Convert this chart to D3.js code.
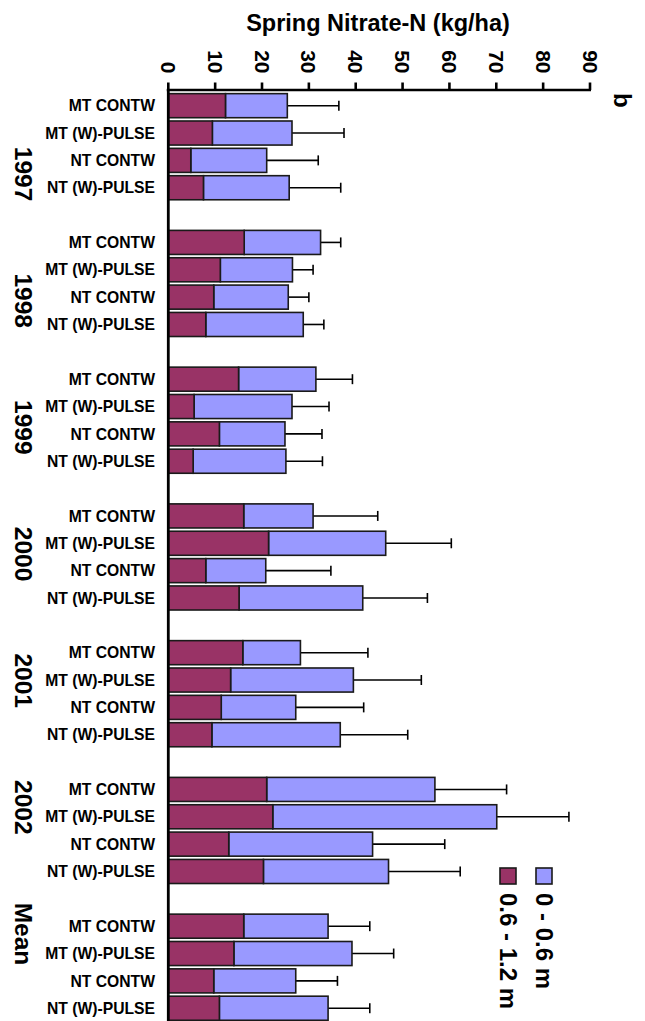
<!DOCTYPE html>
<html>
<head>
<meta charset="utf-8">
<script src="https://cdn.jsdelivr.net/npm/d3@7"></script>
<style>
  body { margin: 0; background: #fff; }
  svg text { font-family: "Liberation Sans", Arial, sans-serif; font-weight: bold; fill: #000; }
</style>
</head>
<body>
<svg id="chart" width="645" height="1021"></svg>
<script>
// groups, top to bottom
var years = ["1997", "1998", "1999", "2000", "2001", "2002", "Mean"];
var treatments = ["MT CONTW", "MT (W)-PULSE", "NT CONTW", "NT (W)-PULSE"];

// 0.6 - 1.2 m layer (kg/ha), one row per year, in treatment order
var deep = [
    [12.2, 9.4, 4.8, 7.5],
    [16.2, 11.1, 9.7, 8.0],
    [15.0, 5.5, 10.9, 5.3],
    [16.1, 21.4, 8.0, 15.1],
    [15.9, 13.3, 11.3, 9.3],
    [21.0, 22.3, 12.9, 20.3],
    [16.1, 14.0, 9.7, 10.9]
];
// 0 - 0.6 m layer (kg/ha), stacked on top of the deep layer
var shallow = [
    [13.2, 17.0, 16.2, 18.3],
    [16.3, 15.4, 15.9, 20.8],
    [16.5, 20.9, 14.0, 19.8],
    [14.8, 25.0, 12.8, 26.4],
    [12.3, 26.2, 15.9, 27.4],
    [35.9, 47.8, 30.7, 26.7],
    [18.0, 25.2, 17.5, 23.2]
];
// error bar length above the stacked total
var errs = [
    [11.0, 11.1, 11.0, 11.0],
    [4.3, 4.4, 4.4, 4.4],
    [7.8, 7.9, 7.9, 7.8],
    [13.8, 14.0, 13.9, 13.8],
    [14.4, 14.5, 14.5, 14.4],
    [15.3, 15.4, 15.4, 15.3],
    [8.9, 8.9, 8.9, 8.9]
];
var xTicks = [0, 10, 20, 30, 40, 50, 60, 70, 80, 90];
var layers = ["0 - 0.6 m", "0.6 - 1.2 m"];
var colors = { "0 - 0.6 m": "#9999ff", "0.6 - 1.2 m": "#993366" };

var svg = d3.select("#chart");

// one slot per bar, plus an empty slot between year groups
var rows = [];
var slots = [];
years.forEach(function(yr, g) {
    treatments.forEach(function(t, i) {
        var key = g * 5 + i;
        slots.push(key);
        rows.push({ year: yr, treatment: t, slot: key, deep: deep[g][i], shallow: shallow[g][i], err: errs[g][i] });
    });
    if (g < years.length - 1) slots.push(g * 5 + 4);
});

var x = d3.scaleLinear().domain([0, 90]).range([168.3, 590]);
var y = d3.scaleBand().domain(slots).range([92, 92 + slots.length * 27.35])
    .paddingInner(0.12).paddingOuter(0.06);
var yearPos = d3.scalePoint().domain(years).range([174, 934]);

// title
svg.append("text")
    .attr("x", 378).attr("y", 31)
    .attr("text-anchor", "middle")
    .style("font-size", "23.5px")
    .text("Spring Nitrate-N (kg/ha)");

// bars
var bar = svg.append("g").selectAll("g").data(rows).enter().append("g");

bar.append("line") // error bar
    .attr("x1", d => x(d.deep + d.shallow))
    .attr("x2", d => x(d.deep + d.shallow + d.err))
    .attr("y1", d => y(d.slot) + y.bandwidth() / 2)
    .attr("y2", d => y(d.slot) + y.bandwidth() / 2)
    .attr("stroke", "#000").attr("stroke-width", 1.6);
bar.append("line") // cap
    .attr("x1", d => x(d.deep + d.shallow + d.err))
    .attr("x2", d => x(d.deep + d.shallow + d.err))
    .attr("y1", d => y(d.slot) + y.bandwidth() / 2 - 5)
    .attr("y2", d => y(d.slot) + y.bandwidth() / 2 + 5)
    .attr("stroke", "#000").attr("stroke-width", 1.6);

bar.append("rect")
    .attr("x", d => x(d.deep))
    .attr("width", d => x(d.deep + d.shallow) - x(d.deep))
    .attr("y", d => y(d.slot))
    .attr("height", y.bandwidth())
    .attr("fill", colors["0 - 0.6 m"])
    .attr("stroke", "#1a1a1a").attr("stroke-width", 1.6);
bar.append("rect")
    .attr("x", x(0))
    .attr("width", d => x(d.deep) - x(0))
    .attr("y", d => y(d.slot))
    .attr("height", y.bandwidth())
    .attr("fill", colors["0.6 - 1.2 m"])
    .attr("stroke", "#1a1a1a").attr("stroke-width", 1.6);

// treatment labels
svg.append("g").selectAll("text").data(rows).enter().append("text")
    .attr("x", 155)
    .attr("y", d => y(d.slot) + y.bandwidth() / 2)
    .attr("dy", "0.36em")
    .attr("text-anchor", "end")
    .style("font-size", "15.7px")
    .text(d => d.treatment);

// year labels (rotated)
svg.append("g").selectAll("text").data(years).enter().append("text")
    .attr("transform", d => "translate(15," + yearPos(d) + ") rotate(90)")
    .attr("text-anchor", "middle")
    .style("font-size", "24.5px")
    .text(d => d);

// top value axis
var axis = svg.append("g");
axis.append("line")
    .attr("x1", x(0) - 1.5).attr("x2", x(90) + 1)
    .attr("y1", 90).attr("y2", 90)
    .attr("stroke", "#000").attr("stroke-width", 2.6);
axis.selectAll(".tick").data(xTicks).enter().append("line")
    .attr("x1", d => x(d)).attr("x2", d => x(d))
    .attr("y1", 90).attr("y2", 82.5)
    .attr("stroke", "#000").attr("stroke-width", 2.6);
axis.selectAll("text").data(xTicks).enter().append("text")
    .attr("transform", d => "translate(" + (x(d) - 7.5) + ",73.5) rotate(90)")
    .attr("text-anchor", "end")
    .style("font-size", "21px")
    .text(d => d);
// category axis line
svg.append("line")
    .attr("x1", x(0)).attr("x2", x(0))
    .attr("y1", 89).attr("y2", 1021)
    .attr("stroke", "#000").attr("stroke-width", 2.8);

// panel letter
svg.append("text")
    .attr("transform", "translate(614,93) rotate(90)")
    .style("font-size", "24px")
    .text("b");

// legend
var leg = svg.append("g").selectAll("g").data(layers).enter().append("g")
    .attr("transform", (d, i) => "translate(" + (536 - i * 36) + ",868)");
leg.append("rect")
    .attr("width", 16).attr("height", 16)
    .attr("fill", d => colors[d])
    .attr("stroke", "#1a1a1a").attr("stroke-width", 1.6);
leg.append("text")
    .attr("transform", "translate(0,25) rotate(90)")
    .style("font-size", "24px")
    .text(d => d);
</script>
</body>
</html>
